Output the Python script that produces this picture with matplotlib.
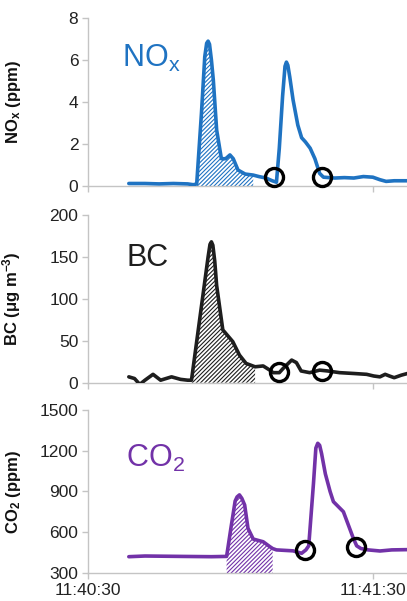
import numpy as np
import matplotlib
matplotlib.use("Agg")
import matplotlib.pyplot as plt

plt.rcParams['font.family'] = ['Liberation Sans', 'DejaVu Sans']
plt.rcParams['mathtext.default'] = 'regular'
plt.rcParams['hatch.linewidth'] = 0.8

# time axis: seconds after 11:40:30
tick_pos = [0, 60]
tick_labels = ['11:40:30', '11:41:30']

nox_t = [8.6, 12, 15, 18, 21, 22.2, 22.9, 23.9, 24.6, 25.0, 25.3, 25.6, 26.0, 26.4, 27.1, 28.1,
         29.0, 29.9, 30.6, 31.6, 33.1, 34.8, 36.0, 37.5, 38.8, 39.7, 40.3, 41.0, 41.5, 41.8,
         42.1, 42.5, 43.2, 44.2, 45.0, 45.8, 46.8, 47.8, 48.8, 49.6, 52, 54, 56, 58, 60,
         61.5, 62.8, 64.5, 67.3]
nox_v = [0.12, 0.12, 0.10, 0.12, 0.10, 0.06, 0.1, 3.46, 6.16, 6.8, 6.9, 6.75, 6.0, 5.05, 2.67, 1.3,
         1.3, 1.48, 1.3, 0.76, 0.57, 0.52, 0.45, 0.38, 0.25, 0.18, 1.8, 4.3, 5.7, 5.9,
         5.75, 5.2, 4.1, 2.9, 2.3, 2.1, 1.8, 1.3, 0.6, 0.42, 0.38, 0.4, 0.38, 0.45, 0.42,
         0.3, 0.22, 0.25, 0.25]
nox_circ_t = [39.2, 49.2]
nox_circ_v = [0.44, 0.44]
nox_shade = (22.9, 34.8)

bc_t = [8.6, 9.8, 10.9, 12.0, 13.7, 15.3, 17.6, 19.5, 21.0, 21.8, 25.3, 25.7, 26.0, 26.3, 26.7,
        27.1, 28.4, 29.3, 30.5, 31.9, 33.3, 35.2, 36.9, 38.3, 39.0, 40.3, 41.1, 42.9, 43.9,
        44.9, 46.7, 48.8, 50.5, 53, 56, 58.7, 60.2, 61.5, 62.6, 63.5, 64.5, 66, 67.3]
bc_v = [7, 5, -2, 3, 10, 3, 7, 4, 3, 3, 150, 165, 168, 164, 145,
        116, 63, 57, 49, 33, 23, 19, 20, 15, 12, 12, 17, 27, 24,
        14, 12, 15, 14, 12, 11, 10, 8, 7, 10, 8, 6, 9, 11]
bc_circ_t = [40.3, 49.2]
bc_circ_v = [13, 14]
bc_shade = (21.8, 35.2)

co2_t = [8.6, 12, 20, 26, 29.2, 30.1, 31.0, 31.4, 31.9, 32.4, 33.0, 33.7, 34.8, 36.9, 38.3,
         38.9, 39.7, 43.2, 45.0, 45.9, 46.5, 47.5, 48.0, 48.4, 48.8, 49.2, 50.0, 51.0, 51.7,
         53.8, 55.9, 56.6, 57.5, 59.0, 61.5, 64, 67.3]
co2_v = [420, 425, 422, 420, 422, 629, 830, 860, 875, 850, 801, 629, 550, 530, 494,
         480, 470, 463, 445, 470, 500, 960, 1220, 1255, 1240, 1180, 1030, 900, 825,
         751, 555, 500, 480, 470, 462, 470, 472]
co2_circ_t = [45.8, 56.5]
co2_circ_v = [469, 494]
co2_shade = (29.2, 38.9)

panels = [
    dict(t=nox_t, v=nox_v, ct=nox_circ_t, cv=nox_circ_v, shade=nox_shade, color='#1f73c2',
         ylim=(0, 8), yticks=[0, 2, 4, 6, 8], ylabel='NO$_x$ (ppm)', name='NO$_x$',
         name_pos=(0.107, 0.707), rect=[0.2162, 0.6905, 0.7838, 0.2795]),
    dict(t=bc_t, v=bc_v, ct=bc_circ_t, cv=bc_circ_v, shade=bc_shade, color='#1e1e1e',
         ylim=(0, 200), yticks=[0, 50, 100, 150, 200], ylabel='BC (μg m$^{-3}$)', name='BC',
         name_pos=(0.122, 0.698), rect=[0.2162, 0.3632, 0.7838, 0.2790]),
    dict(t=co2_t, v=co2_v, ct=co2_circ_t, cv=co2_circ_v, shade=co2_shade, color='#7232a8',
         ylim=(300, 1500), yticks=[300, 600, 900, 1200, 1500], ylabel='CO$_2$ (ppm)', name='CO$_2$',
         name_pos=(0.119, 0.652), rect=[0.2162, 0.0466, 0.7838, 0.2712]),
]

fig = plt.figure(figsize=(4.07, 6.01), dpi=100)
grey = '#c4c4c4'

for i, p in enumerate(panels):
    ax = fig.add_axes(p['rect'])
    t = np.array(p['t'])
    v = np.array(p['v'])
    m = (t >= p['shade'][0]) & (t <= p['shade'][1])
    ax.fill_between(t[m], p['ylim'][0], v[m], facecolor='white', edgecolor=p['color'],
                    hatch='////////', linewidth=0, zorder=1)
    ax.plot(t, v, color=p['color'], lw=2.6, solid_joinstyle='round', solid_capstyle='round',
            zorder=3)
    ax.plot(p['ct'], p['cv'], 'o', mfc='none', mec='black', ms=13, mew=2.4, zorder=4,
            clip_on=False)

    ax.set_xlim(0, 67.2)
    ax.set_ylim(*p['ylim'])
    ax.set_yticks(p['yticks'])
    ax.set_xticks(tick_pos)
    if i == 2:
        ax.set_xticklabels(tick_labels)
    else:
        ax.set_xticklabels([])

    for s in ['top', 'right']:
        ax.spines[s].set_visible(False)
    for s in ['left', 'bottom']:
        ax.spines[s].set_color(grey)
        ax.spines[s].set_linewidth(1.0)
    ax.tick_params(axis='both', direction='out', length=4, width=1.0, color=grey,
                   labelsize=12.5, labelcolor='#222222', pad=3)

    ax.set_ylabel(p['ylabel'], fontsize=12, fontweight='bold', color='#111111')
    ax.yaxis.set_label_coords(-0.205, 0.5)

    ax.text(p['name_pos'][0], p['name_pos'][1], p['name'], transform=ax.transAxes,
            fontsize=22, color=p['color'], va='baseline', ha='left')

fig.savefig('out.png', dpi=100)
